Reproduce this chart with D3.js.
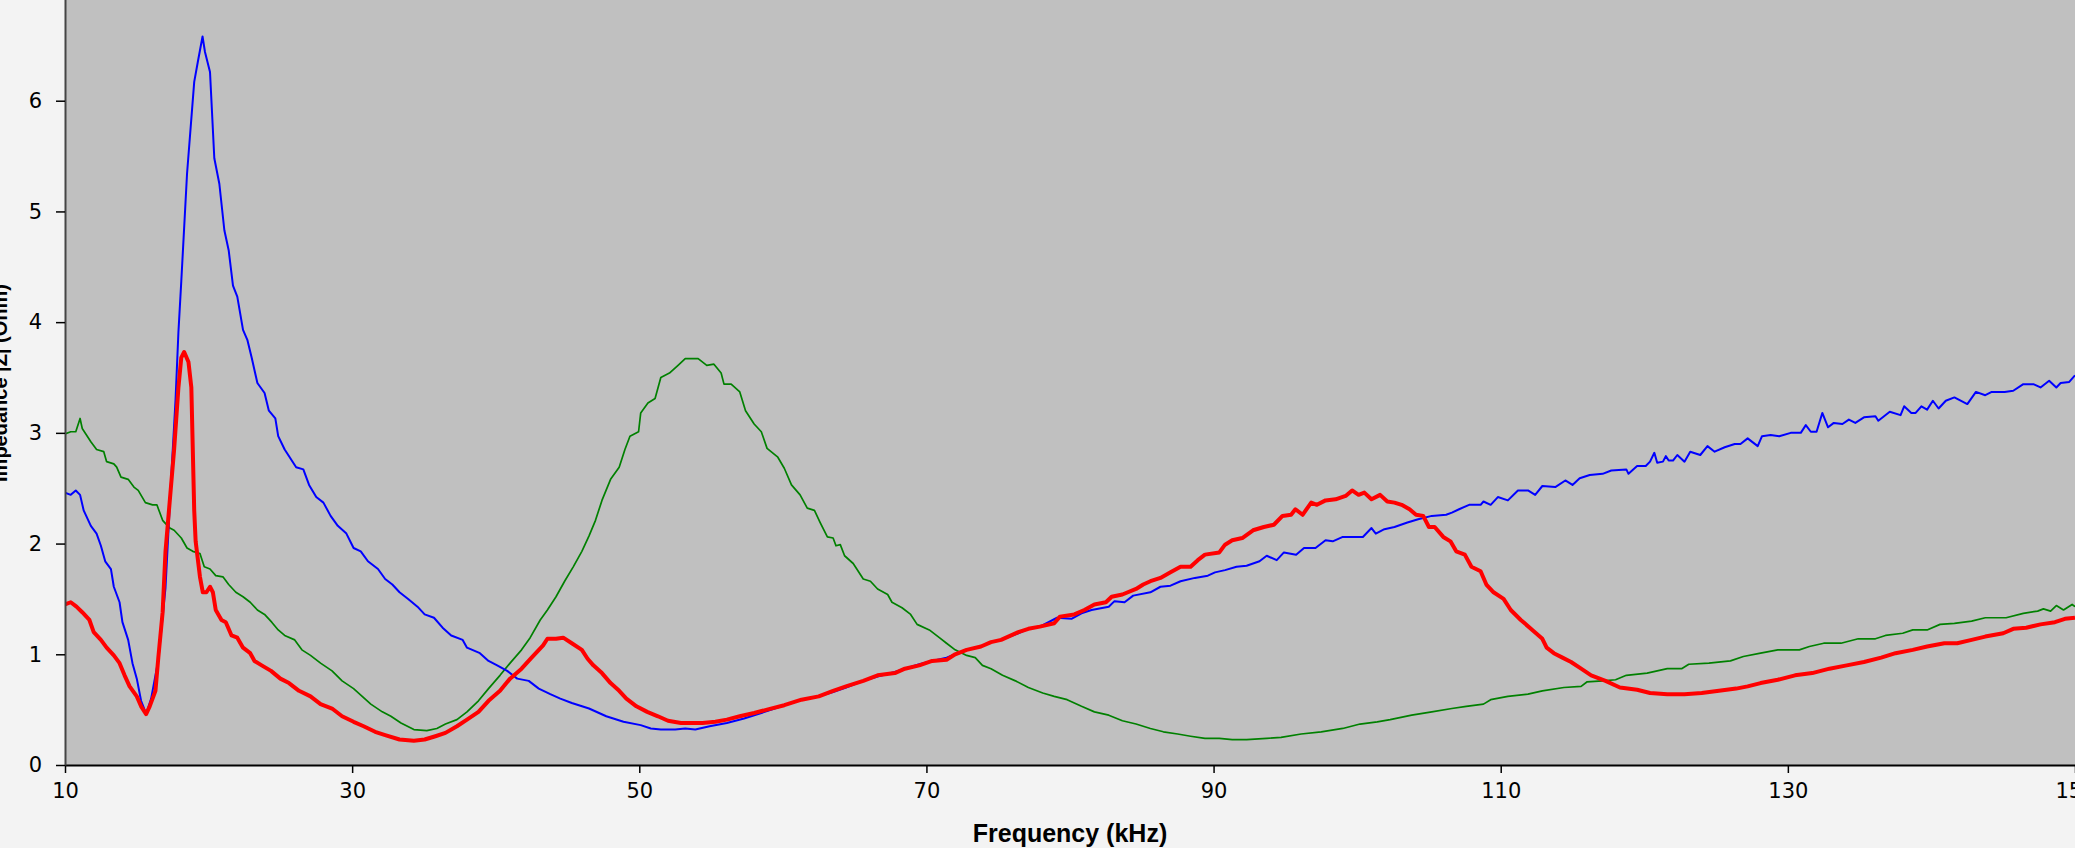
<!DOCTYPE html>
<html>
<head>
<meta charset="utf-8">
<script src="https://cdn.jsdelivr.net/npm/d3@7"></script>
<style>
  html, body { margin: 0; padding: 0; background: #f3f3f3; }
  svg { display: block; }
</style>
</head>
<body>
<div id="chart"></div>
<script>
// impedance curves, [frequency kHz, impedance Ohm]
const blueSeries = [
  [10,2.46],[10.4,2.44],[10.75,2.48],[11.05,2.44],[11.3,2.30],[11.8,2.16],[12.2,2.09],[12.5,1.98],[12.8,1.84],
  [13.2,1.77],[13.4,1.61],[13.8,1.47],[14.0,1.29],[14.4,1.13],[14.7,0.92],[15.0,0.78],[15.3,0.58],[15.6,0.48],
  [15.65,0.46],[16.0,0.6],[16.5,0.95],[17.0,1.6],[17.4,2.6],[17.7,3.3],[17.9,3.91],[18.1,4.37],[18.5,5.34],
  [19.0,6.17],[19.25,6.35],[19.58,6.58],[19.75,6.44],[20.1,6.26],[20.4,5.48],[20.75,5.25],[21.1,4.83],[21.4,4.65],
  [21.7,4.33],[22.0,4.23],[22.4,3.93],[22.7,3.84],[23.0,3.68],[23.4,3.45],[23.9,3.36],[24.2,3.20],[24.65,3.13],
  [24.85,2.97],[25.3,2.85],[26.1,2.69],[26.6,2.67],[27.0,2.53],[27.5,2.42],[28.0,2.37],[28.5,2.25],[29.0,2.16],
  [29.6,2.09],[30.1,1.96],[30.6,1.93],[31.1,1.84],[31.8,1.77],[32.3,1.68],[32.8,1.63],[33.3,1.56],[33.9,1.50],
  [34.55,1.43],[35.05,1.36],[35.7,1.33],[36.3,1.24],[36.9,1.17],[37.7,1.13],[38.0,1.06],[38.9,1.01],[39.5,0.94],
  [40.1,0.90],[40.8,0.85],[41.5,0.78],[42.3,0.76],[43.0,0.69],[43.8,0.64],[44.5,0.60],[45.3,0.56],[46.5,0.51],
  [47.7,0.44],[48.9,0.39],[50.1,0.36],[50.8,0.33],[51.5,0.32],[52.5,0.32],[53.2,0.33],[53.9,0.32],[54.9,0.35],
  [56.1,0.38],[57.3,0.42],[58.5,0.47],[59.9,0.53],[61.3,0.59],[62.5,0.62],[63.5,0.66],[64.4,0.70],[65.6,0.76],
  [66.6,0.80],[67.8,0.84],[68.5,0.87],[69.5,0.91],[70.4,0.94],[71.4,0.97],[72.0,1.00],[72.8,1.04],[73.8,1.07],
  [74.5,1.11],[75.2,1.13],[76.4,1.19],[77.1,1.23],[77.9,1.25],[79.1,1.33],[80.1,1.32],[80.8,1.37],[81.5,1.40],
  [82.7,1.43],[83.1,1.48],[83.8,1.47],[84.4,1.53],[85.6,1.56],[86.3,1.61],[87.0,1.62],[87.7,1.66],[88.7,1.69],
  [89.6,1.71],[90.1,1.74],[90.8,1.76],[91.6,1.79],[92.3,1.80],[93.2,1.84],[93.7,1.89],[94.4,1.85],[94.9,1.92],
  [95.75,1.90],[96.3,1.96],[97.1,1.96],[97.8,2.03],[98.3,2.02],[99.0,2.06],[100.4,2.06],[101.0,2.14],[101.3,2.09],
  [101.9,2.13],[102.6,2.15],[103.5,2.19],[104.25,2.22],[105.2,2.25],[106.2,2.26],[106.6,2.28],[107.1,2.31],
  [107.8,2.35],[108.6,2.35],[108.8,2.38],[109.3,2.35],[109.8,2.42],[110.5,2.39],[111.2,2.48],[111.9,2.48],
  [112.4,2.44],[112.9,2.52],[113.8,2.51],[114.5,2.57],[115.0,2.53],[115.5,2.59],[116.2,2.62],[117.1,2.63],
  [117.7,2.66],[118.75,2.67],[118.9,2.63],[119.5,2.70],[120.1,2.70],[120.4,2.74],[120.7,2.82],[120.9,2.73],
  [121.3,2.74],[121.5,2.79],[121.7,2.75],[122.0,2.75],[122.3,2.80],[122.8,2.74],[123.2,2.83],[123.9,2.80],
  [124.4,2.88],[124.9,2.83],[125.6,2.87],[126.3,2.90],[126.7,2.90],[127.2,2.95],[127.9,2.88],[128.2,2.97],
  [128.8,2.98],[129.4,2.97],[130.2,3.00],[130.9,3.00],[131.25,3.07],[131.6,3.01],[132.0,3.01],[132.4,3.18],
  [132.8,3.05],[133.2,3.09],[133.8,3.08],[134.25,3.12],[134.7,3.09],[135.3,3.14],[136.1,3.15],[136.3,3.11],
  [136.7,3.15],[137.1,3.19],[137.85,3.16],[138.1,3.24],[138.6,3.18],[138.9,3.18],[139.3,3.24],[139.7,3.21],
  [140.1,3.29],[140.5,3.22],[141.0,3.29],[141.6,3.32],[142.5,3.26],[143.1,3.37],[143.75,3.34],[144.2,3.37],
  [145.1,3.37],[145.7,3.38],[146.4,3.44],[147.1,3.44],[147.6,3.41],[148.2,3.47],[148.7,3.41],[149.0,3.45],
  [149.6,3.46],[150,3.52]
];

const greenSeries = [
  [10,2.99],[10.4,3.01],[10.75,3.01],[11.05,3.13],[11.2,3.04],[11.8,2.92],[12.2,2.85],[12.7,2.83],[12.9,2.74],
  [13.4,2.72],[13.6,2.69],[13.9,2.60],[14.4,2.58],[14.8,2.51],[15.1,2.48],[15.6,2.37],[16.1,2.35],[16.4,2.35],
  [16.8,2.21],[17.3,2.14],[17.6,2.12],[18.1,2.05],[18.5,1.96],[18.9,1.93],[19.4,1.91],[19.7,1.79],[20.1,1.77],
  [20.5,1.71],[21.0,1.70],[21.4,1.63],[21.9,1.56],[22.4,1.52],[22.9,1.47],[23.4,1.40],[23.9,1.36],[24.4,1.29],
  [24.85,1.22],[25.3,1.17],[26.0,1.13],[26.5,1.04],[27.1,0.99],[27.8,0.92],[28.6,0.85],[29.3,0.76],[30.1,0.69],
  [30.7,0.62],[31.3,0.55],[32.1,0.48],[32.7,0.44],[33.4,0.38],[34.3,0.32],[35.2,0.31],[35.9,0.33],[36.5,0.37],
  [37.3,0.41],[38.0,0.48],[38.8,0.58],[39.5,0.69],[40.3,0.81],[41.0,0.92],[41.8,1.04],[42.4,1.15],[43.1,1.31],
  [43.6,1.40],[44.2,1.52],[44.8,1.66],[45.4,1.79],[46.0,1.93],[46.5,2.07],[46.95,2.21],[47.4,2.39],[48.0,2.58],
  [48.6,2.69],[49.0,2.85],[49.35,2.97],[49.95,3.01],[50.1,3.18],[50.6,3.27],[51.1,3.31],[51.5,3.50],[52.1,3.54],
  [52.7,3.61],[53.2,3.67],[54.1,3.67],[54.7,3.61],[55.2,3.62],[55.7,3.54],[55.9,3.44],[56.4,3.44],[57.0,3.37],
  [57.4,3.20],[58.0,3.08],[58.5,3.01],[58.9,2.86],[59.65,2.78],[60.1,2.68],[60.6,2.53],[61.2,2.44],[61.7,2.32],
  [62.2,2.30],[62.6,2.19],[63.1,2.06],[63.5,2.05],[63.7,1.98],[64.0,1.99],[64.3,1.89],[64.9,1.82],[65.6,1.68],
  [66.1,1.66],[66.6,1.59],[67.3,1.54],[67.6,1.47],[68.3,1.42],[68.9,1.36],[69.35,1.27],[70.2,1.22],[70.9,1.15],
  [71.4,1.10],[72.0,1.04],[72.8,0.99],[73.4,0.97],[73.9,0.90],[74.5,0.87],[75.3,0.81],[76.2,0.76],[77.1,0.70],
  [78.1,0.65],[78.9,0.62],[79.8,0.59],[80.8,0.53],[81.7,0.48],[82.7,0.45],[83.65,0.40],[84.6,0.37],[85.6,0.33],
  [86.5,0.30],[87.5,0.28],[88.4,0.26],[89.4,0.24],[90.4,0.24],[91.3,0.23],[92.3,0.23],[93.7,0.24],[94.7,0.25],
  [96.1,0.28],[97.5,0.30],[99.0,0.33],[100.2,0.37],[101.4,0.39],[102.3,0.41],[103.8,0.45],[105.2,0.48],
  [106.6,0.51],[107.6,0.53],[108.8,0.55],[109.3,0.59],[110.5,0.62],[111.9,0.64],[112.9,0.67],[114.4,0.70],
  [115.6,0.71],[116.0,0.75],[117.1,0.76],[118.0,0.77],[118.75,0.81],[120.2,0.83],[121.6,0.87],[122.6,0.87],
  [123.1,0.91],[124.5,0.92],[126.0,0.94],[126.9,0.98],[128.1,1.01],[129.3,1.04],[130.8,1.04],[131.5,1.07],
  [132.5,1.10],[133.7,1.10],[134.9,1.14],[136.1,1.14],[136.8,1.17],[138.0,1.19],[138.7,1.22],[139.7,1.22],
  [140.6,1.27],[141.6,1.28],[142.8,1.30],[143.75,1.33],[145.2,1.33],[146.4,1.37],[147.4,1.39],[147.8,1.41],
  [148.3,1.39],[148.7,1.44],[149.2,1.40],[149.8,1.45],[150,1.43]
];

const redSeries = [
  [10,1.45],[10.4,1.47],[10.8,1.43],[11.2,1.38],[11.7,1.31],[12.0,1.20],[12.5,1.13],[12.9,1.06],[13.4,0.99],
  [13.8,0.92],[14.15,0.81],[14.5,0.71],[15.0,0.62],[15.3,0.53],[15.65,0.46],[15.9,0.53],[16.3,0.67],[16.5,0.97],
  [16.8,1.38],[17.0,1.93],[17.3,2.39],[17.6,2.85],[17.9,3.41],[18.1,3.68],[18.3,3.73],[18.6,3.64],[18.8,3.41],
  [19.0,2.30],[19.1,2.02],[19.4,1.70],[19.6,1.56],[19.85,1.56],[20.1,1.61],[20.3,1.56],[20.5,1.40],[20.9,1.31],
  [21.2,1.29],[21.6,1.17],[22.0,1.15],[22.4,1.06],[22.9,1.01],[23.2,0.94],[23.7,0.90],[24.35,0.85],[25.0,0.78],
  [25.6,0.74],[26.3,0.67],[27.1,0.62],[27.8,0.55],[28.6,0.51],[29.3,0.44],[30.1,0.39],[30.8,0.35],[31.6,0.30],
  [32.3,0.27],[33.3,0.23],[34.3,0.22],[35.05,0.23],[35.8,0.26],[36.5,0.29],[37.3,0.35],[38.0,0.41],[38.8,0.48],
  [39.5,0.58],[40.3,0.67],[41.0,0.78],[41.8,0.87],[42.5,0.97],[43.3,1.08],[43.6,1.14],[44.2,1.14],[44.7,1.15],
  [45.3,1.10],[46.0,1.04],[46.4,0.96],[46.8,0.90],[47.4,0.83],[48.0,0.74],[48.6,0.67],[49.1,0.60],[49.8,0.53],
  [50.55,0.48],[51.3,0.44],[52.0,0.40],[52.9,0.38],[54.4,0.38],[55.3,0.39],[56.1,0.41],[57.0,0.44],[58.0,0.47],
  [58.9,0.50],[60.1,0.54],[61.3,0.59],[62.5,0.62],[63.5,0.67],[64.4,0.71],[65.6,0.76],[66.6,0.81],[67.8,0.83],
  [68.5,0.87],[69.5,0.90],[70.4,0.94],[71.4,0.95],[72.0,1.00],[72.8,1.04],[73.8,1.07],[74.5,1.11],[75.2,1.13],
  [76.4,1.20],[77.1,1.23],[77.9,1.25],[78.9,1.28],[79.3,1.34],[80.3,1.36],[81.0,1.40],[81.7,1.45],[82.5,1.47],
  [82.9,1.52],[83.65,1.54],[84.6,1.59],[85.1,1.63],[85.6,1.66],[86.3,1.69],[87.0,1.74],[87.7,1.79],[88.4,1.79],
  [88.9,1.85],[89.4,1.90],[90.4,1.92],[90.8,1.99],[91.3,2.03],[92.0,2.05],[92.75,2.12],[93.5,2.15],[94.2,2.17],
  [94.8,2.25],[95.4,2.26],[95.7,2.31],[96.2,2.26],[96.8,2.37],[97.2,2.35],[97.8,2.39],[98.5,2.40],[99.2,2.43],
  [99.65,2.48],[100.1,2.44],[100.5,2.46],[101.0,2.40],[101.6,2.44],[102.1,2.38],[102.6,2.37],[103.1,2.35],
  [103.65,2.31],[104.1,2.26],[104.6,2.25],[105.0,2.15],[105.4,2.15],[106.0,2.06],[106.5,2.02],[106.9,1.93],
  [107.5,1.90],[107.96,1.79],[108.6,1.75],[109.0,1.63],[109.5,1.56],[110.2,1.50],[110.7,1.40],[111.4,1.31],
  [112.2,1.22],[112.9,1.14],[113.2,1.06],[113.7,1.01],[114.3,0.97],[114.9,0.93],[115.6,0.87],[116.3,0.81],
  [117.3,0.76],[118.3,0.70],[119.5,0.68],[120.4,0.65],[121.6,0.64],[122.8,0.64],[124.0,0.65],[125.2,0.67],
  [126.4,0.69],[127.2,0.71],[128.1,0.74],[129.3,0.77],[130.5,0.81],[131.7,0.83],[132.9,0.87],[134.1,0.90],
  [135.3,0.93],[136.5,0.97],[137.5,1.01],[138.7,1.04],[139.7,1.07],[140.9,1.10],[141.8,1.10],[142.8,1.13],
  [143.75,1.16],[145.0,1.19],[145.7,1.23],[146.6,1.24],[147.6,1.27],[148.6,1.29],[149.3,1.32],[150,1.33]
];

const xTicks = [10, 30, 50, 70, 90, 110, 130, 150];
const yTicks = [0, 1, 2, 3, 4, 5, 6];

const width = 2075, height = 848;
const margin = { left: 65, right: 0, top: -10, bottom: 83 };

const svg = d3.select('#chart').append('svg')
    .attr('width', width)
    .attr('height', height);

svg.append('rect')
    .attr('width', width).attr('height', height)
    .attr('fill', '#f3f3f3');

const x = d3.scaleLinear().domain([10, 150]).range([margin.left, width - margin.right]);
const y = d3.scaleLinear().domain([0, 7]).range([height - margin.bottom, margin.top]);

// plot area
svg.append('rect')
    .attr('x', x(10)).attr('y', y(7))
    .attr('width', x(150) - x(10)).attr('height', y(0) - y(7))
    .attr('fill', '#c0c0c0');

svg.append('clipPath').attr('id', 'plotclip')
  .append('rect')
    .attr('x', x(10)).attr('y', y(7))
    .attr('width', x(150) - x(10)).attr('height', y(0) - y(7));

const line = d3.line()
    .x(d => x(d[0]))
    .y(d => y(d[1]));

const g = svg.append('g').attr('clip-path', 'url(#plotclip)');
g.append('path').datum(greenSeries)
    .attr('d', line).attr('fill', 'none')
    .attr('stroke', '#008000').attr('stroke-width', 1.7).attr('stroke-linejoin', 'round');
g.append('path').datum(blueSeries)
    .attr('d', line).attr('fill', 'none')
    .attr('stroke', '#0000ff').attr('stroke-width', 2).attr('stroke-linejoin', 'round');
g.append('path').datum(redSeries)
    .attr('d', line).attr('fill', 'none')
    .attr('stroke', '#ff0000').attr('stroke-width', 4).attr('stroke-linejoin', 'round');

// axes
const xAxis = d3.axisBottom(x).tickValues(xTicks).tickSize(8).tickPadding(10).tickSizeOuter(0);
const yAxis = d3.axisLeft(y).tickValues(yTicks).tickFormat(d3.format('d'))
    .tickSize(9).tickPadding(14).tickSizeOuter(0);

const gx = svg.append('g')
    .attr('transform', `translate(0,${y(0)})`)
    .call(xAxis);
gx.select('.domain').attr('stroke', '#000').attr('stroke-width', 2);
gx.selectAll('.tick line').attr('stroke', '#000').attr('stroke-width', 1.5);
gx.selectAll('.tick text')
    .attr('font-family', 'DejaVu Sans, sans-serif')
    .attr('font-size', 21).attr('fill', '#000');

const gy = svg.append('g')
    .attr('transform', `translate(${x(10)},0)`)
    .call(yAxis);
gy.select('.domain').attr('stroke', '#444').attr('stroke-width', 2);
gy.selectAll('.tick line').attr('stroke', '#000').attr('stroke-width', 1.5);
gy.selectAll('.tick text')
    .attr('font-family', 'DejaVu Sans, sans-serif')
    .attr('font-size', 21).attr('fill', '#000');

// axis titles
svg.append('text')
    .attr('x', (x(10) + x(150)) / 2)
    .attr('y', 842)
    .attr('text-anchor', 'middle')
    .attr('font-family', 'Liberation Sans, Arial, sans-serif')
    .attr('font-weight', 'bold')
    .attr('font-size', 25)
    .attr('fill', '#000')
    .text('Frequency (kHz)');

svg.append('text')
    .attr('transform', 'translate(7,383) rotate(-90)')
    .attr('text-anchor', 'middle')
    .attr('font-family', 'Liberation Sans, Arial, sans-serif')
    .attr('font-weight', 'bold')
    .attr('font-size', 20)
    .attr('fill', '#000')
    .text('Impedance |Z| (Ohm)');
</script>
</body>
</html>
